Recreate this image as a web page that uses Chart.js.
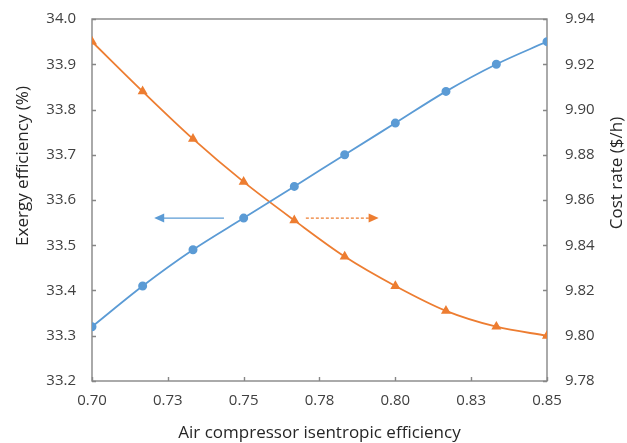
<!DOCTYPE html>
<html>
<head>
<meta charset="utf-8">
<script src="https://cdn.jsdelivr.net/npm/chart.js@4/dist/chart.umd.min.js"></script>
<style>
  html, body { margin: 0; padding: 0; background: #fff; }
  #wrap { width: 627px; height: 443px; }
</style>
</head>
<body>
<div id="wrap"><canvas id="chart"></canvas></div>
<script>
// ─── DATA ───
const efficiency = [0.70, 0.7167, 0.7333, 0.75, 0.7667, 0.7833, 0.80, 0.8167, 0.8333, 0.85];
const exergyEff = [33.32, 33.41, 33.49, 33.56, 33.63, 33.70, 33.77, 33.84, 33.90, 33.95];
const costRate = [9.930, 9.908, 9.887, 9.868, 9.851, 9.835, 9.822, 9.811, 9.804, 9.800];
const xTickLabels = ['0.70', '0.73', '0.75', '0.78', '0.80', '0.83', '0.85'];

// arrows pointing at the axis each curve belongs to (data units)
const leftArrow = { from: 0.7435, to: 0.7205, y: 33.56 };
const rightArrow = { from: 0.7705, to: 0.7945, y: 33.56 };

const BLUE = '#5B9BD5';
const ORANGE = '#ED7D31';
const AXIS = '#868686';
const TEXT = '#404040';
const FONT = 'Open Sans';

// ─── FRAME, TICK MARKS, ARROWS, Y TITLES ───
const framePlugin = {
    id: 'frame',
    beforeDatasetsDraw(chart) {
        const { ctx, chartArea: a, scales } = chart;
        ctx.save();
        ctx.strokeStyle = AXIS;
        ctx.lineWidth = 1.4;
        ctx.strokeRect(a.left, a.top, a.right - a.left, a.bottom - a.top);
        // inward tick marks
        ctx.beginPath();
        scales.x.ticks.forEach(t => {
            const px = Math.round(scales.x.getPixelForValue(t.value)) + 0.5;
            ctx.moveTo(px, a.bottom); ctx.lineTo(px, a.bottom - 4);
        });
        scales.y.ticks.forEach(t => {
            const py = Math.round(scales.y.getPixelForValue(t.value)) + 0.5;
            ctx.moveTo(a.left, py); ctx.lineTo(a.left + 4, py);
        });
        scales.y1.ticks.forEach(t => {
            const py = Math.round(scales.y1.getPixelForValue(t.value)) + 0.5;
            ctx.moveTo(a.right, py); ctx.lineTo(a.right - 4, py);
        });
        ctx.stroke();
        ctx.restore();
    },
    afterDatasetsDraw(chart) {
        const { ctx, scales } = chart;
        const drawArrow = (arr, color, dashed) => {
            const x1 = scales.x.getPixelForValue(arr.from);
            const x2 = scales.x.getPixelForValue(arr.to);
            const y = scales.y.getPixelForValue(arr.y);
            const dir = Math.sign(x2 - x1);
            ctx.save();
            ctx.strokeStyle = color;
            ctx.fillStyle = color;
            ctx.lineWidth = 1.3;
            if (dashed) ctx.setLineDash([3, 2]);
            ctx.beginPath();
            ctx.moveTo(x1, y);
            ctx.lineTo(x2 - dir * 8, y);
            ctx.stroke();
            ctx.setLineDash([]);
            ctx.beginPath();
            ctx.moveTo(x2, y);
            ctx.lineTo(x2 - dir * 10, y - 4.5);
            ctx.lineTo(x2 - dir * 10, y + 4.5);
            ctx.closePath();
            ctx.fill();
            ctx.restore();
        };
        drawArrow(leftArrow, BLUE, false);
        drawArrow(rightArrow, ORANGE, true);
    },
    afterDraw(chart) {
        const { ctx } = chart;
        const vTitle = (text, x, y) => {
            ctx.save();
            ctx.translate(x, y);
            ctx.rotate(-Math.PI / 2);
            ctx.fillStyle = '#262626';
            ctx.font = `17px "${FONT}"`;
            ctx.textAlign = 'center';
            ctx.textBaseline = 'middle';
            ctx.fillText(text, 0, 0);
            ctx.restore();
        };
        vTitle('Exergy efficiency (%)', 23, 166);
        vTitle('Cost rate ($/h)', 617, 173);
    }
};

// keep tick-label overflow from pushing the plot area around
const fitY = width => s => {
    s.width = width;
    s.paddingTop = 0;
    s.paddingBottom = 0;
};

// ─── CHART ───
const ctx = document.getElementById('chart').getContext('2d');
new Chart(ctx, {
    type: 'line',
    data: {
        datasets: [{
            label: 'Exergy efficiency',
            data: efficiency.map((x, i) => ({ x, y: exergyEff[i] })),
            yAxisID: 'y',
            borderColor: BLUE,
            backgroundColor: BLUE,
            borderWidth: 1.8,
            pointStyle: 'circle',
            pointRadius: 3.6,
            cubicInterpolationMode: 'monotone'
        }, {
            label: 'Cost rate',
            data: efficiency.map((x, i) => ({ x, y: costRate[i] })),
            yAxisID: 'y1',
            borderColor: ORANGE,
            backgroundColor: ORANGE,
            borderWidth: 1.8,
            pointStyle: 'triangle',
            pointRadius: 4,
            cubicInterpolationMode: 'monotone'
        }]
    },
    options: {
        responsive: true,
        maintainAspectRatio: false,
        animation: false,
        layout: { padding: { top: 19, right: 0, left: 0, bottom: 0 } },
        plugins: {
            legend: { display: false },
            tooltip: { enabled: false }
        },
        scales: {
            x: {
                type: 'linear',
                min: 0.70,
                max: 0.85,
                grid: { display: false, drawTicks: false },
                border: { display: false },
                ticks: {
                    stepSize: 0.025,
                    color: TEXT,
                    padding: 11,
                    font: { family: FONT, size: 15 },
                    callback: (v, i) => xTickLabels[i]
                },
                title: {
                    display: true,
                    text: 'Air compressor isentropic efficiency',
                    color: '#262626',
                    font: { family: FONT, size: 17 },
                    padding: { top: 4, bottom: 0 }
                },
                afterFit: s => { s.height = 62; }
            },
            y: {
                position: 'left',
                min: 33.2,
                max: 34.0,
                grid: { display: false, drawTicks: false },
                border: { display: false },
                ticks: {
                    stepSize: 0.1,
                    color: TEXT,
                    padding: 16,
                    font: { family: FONT, size: 15 },
                    callback: v => v.toFixed(1)
                },
                afterFit: fitY(92)
            },
            y1: {
                position: 'right',
                min: 9.78,
                max: 9.94,
                grid: { display: false, drawTicks: false },
                border: { display: false },
                ticks: {
                    stepSize: 0.02,
                    color: TEXT,
                    padding: 18,
                    font: { family: FONT, size: 15 },
                    callback: v => v.toFixed(2)
                },
                afterFit: fitY(80)
            }
        }
    },
    plugins: [framePlugin]
});
</script>
</body>
</html>
